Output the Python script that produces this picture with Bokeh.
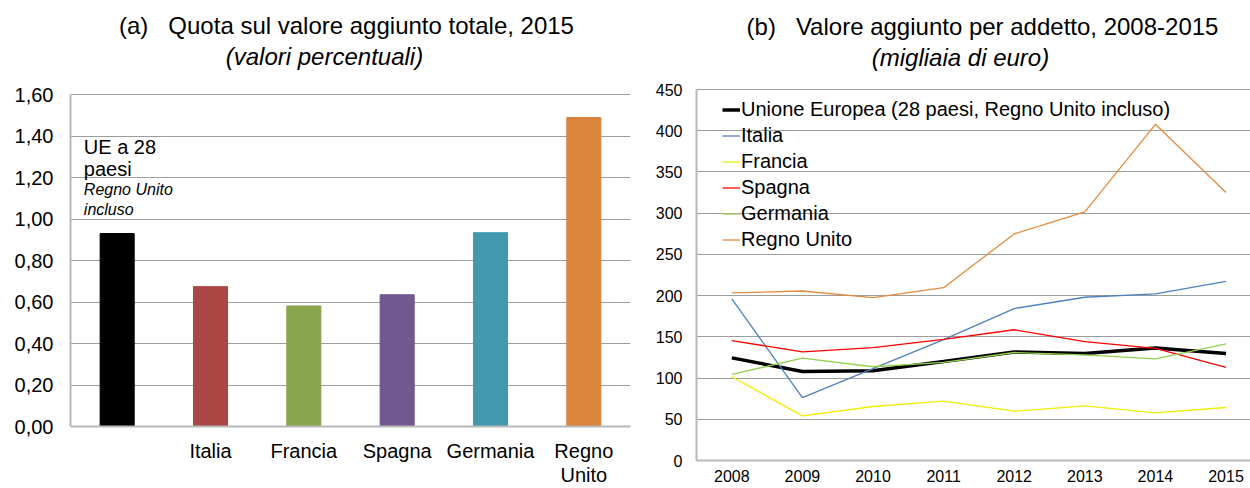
from bokeh.plotting import figure
from bokeh.layouts import row
from bokeh.models import (FactorRange, Range1d, FixedTicker, CustomJSTickFormatter,
                          Label, Legend, LegendItem)
from bokeh.embed import file_html
from bokeh.resources import INLINE

FONT = "Liberation Sans"

# ---------------- Panel (a) data ----------------
bar_categories = [" ", "Italia", "Francia", "Spagna", "Germania", "Regno\nUnito"]
bar_values = [0.93, 0.674, 0.581, 0.635, 0.934, 1.489]
bar_colors = ["#000000", "#AA4643", "#89A54E", "#71588F", "#4198AF", "#DB843D"]
y_ticks_a = [0.0, 0.2, 0.4, 0.6, 0.8, 1.0, 1.2, 1.4, 1.6]

# ---------------- Panel (b) data ----------------
years = [2008, 2009, 2010, 2011, 2012, 2013, 2014, 2015]
series_names = ["Unione Europea (28 paesi, Regno Unito incluso)", "Italia", "Francia",
                "Spagna", "Germania", "Regno Unito"]
ue = [124.5, 108.0, 108.8, 120.0, 131.7, 129.7, 136.5, 129.7]
italia = [196.0, 76.3, 111.5, 146.6, 184.3, 198.0, 202.0, 217.3]
francia = [101.6, 54.2, 65.5, 71.9, 59.8, 66.3, 57.8, 64.3]
spagna = [145.4, 131.7, 137.0, 147.0, 158.6, 144.2, 136.1, 112.9]
germania = [104.4, 124.1, 113.7, 119.0, 131.0, 128.0, 123.3, 141.4]
regno_unito = [203.2, 205.6, 197.6, 209.6, 274.8, 301.6, 407.8, 325.1]
series_values = [ue, italia, francia, spagna, germania, regno_unito]
line_colors = ["#000000", "#4F81BD", "#EEEE00", "#FF0000", "#92D050", "#E38B3F"]
line_widths = [3.5, 1.3, 1.3, 1.3, 1.3, 1.3]
y_ticks_b = [0, 50, 100, 150, 200, 250, 300, 350, 400, 450]

GRID = "#9c9c9c"
AXIS = "#b8b8b8"

comma_fmt = CustomJSTickFormatter(code="return tick.toFixed(2).replace('.', ',');")

# ---------------- Panel (a) ----------------
# frame spans from the top of the canvas so that the titles can live inside it;
# the axis line and grid stop at 1,60
H = 488
A_BOTTOM = 62                      # px below the frame
A_TOP_GAP = 94                     # px between canvas top and the 1,60 line
a_frame_h = H - A_BOTTOM
a_ymax = 1.6 * a_frame_h / (a_frame_h - A_TOP_GAP)

p1 = figure(width=648, height=H, x_range=FactorRange(*bar_categories, range_padding=0),
            y_range=Range1d(0, a_ymax), output_backend="svg", toolbar_location=None,
            min_border_left=70, min_border_right=18, min_border_bottom=A_BOTTOM, min_border_top=0,
            frame_align=False)
p1.outline_line_color = None
p1.vbar(x=bar_categories, top=bar_values, width=0.365, color=bar_colors)

p1.xgrid.grid_line_color = None
p1.ygrid.grid_line_color = GRID
p1.ygrid.ticker = FixedTicker(ticks=y_ticks_a)
p1.yaxis.ticker = FixedTicker(ticks=y_ticks_a)
p1.yaxis.bounds = (0, 1.6)
p1.yaxis.formatter = comma_fmt
for ax in (p1.xaxis[0], p1.yaxis[0]):
    ax.major_tick_line_color = None
    ax.minor_tick_line_color = None
    ax.major_tick_out = 0
    ax.major_tick_in = 0
    ax.axis_line_color = AXIS
    ax.axis_line_width = 2
    ax.major_label_text_font = FONT
    ax.major_label_text_font_size = "20px"
    ax.major_label_text_color = "#000000"
p1.yaxis.major_label_standoff = 17
p1.xaxis.major_label_standoff = 13
p1.xaxis.major_label_text_line_height = 1.1

p1.add_layout(Label(x=2.957, y=1.932, text="(a)\u00a0\u00a0\u00a0Quota sul valore aggiunto totale, 2015",
                    text_font=FONT, text_font_size="24px", text_baseline="alphabetic",
                    text_align="center", text_color="#000000"))
p1.add_layout(Label(x=2.721, y=1.785, text="(valori percentuali)", text_font=FONT,
                    text_font_size="24px", text_font_style="italic", text_baseline="alphabetic",
                    text_align="center", text_color="#000000"))
ann = [("UE a 28", 1.349, "20px", "normal"), ("paesi", 1.239, "20px", "normal"),
       ("Regno Unito", 1.142, "16px", "italic"), ("incluso", 1.045, "16px", "italic")]
for txt, yy, fs, st in ann:
    p1.add_layout(Label(x=0.143, y=yy, text=txt, text_font=FONT, text_font_size=fs,
                        text_font_style=st, text_baseline="alphabetic", text_color="#000000"))

# ---------------- Panel (b) ----------------
B_BOTTOM = 28
B_TOP_GAP = 89
b_frame_h = H - B_BOTTOM
b_ymax = 450 * b_frame_h / (b_frame_h - B_TOP_GAP)

p2 = figure(width=602, height=H, x_range=Range1d(2007.5, 2015.347), y_range=Range1d(0, b_ymax),
            output_backend="svg", toolbar_location=None,
            min_border_left=48, min_border_right=0, min_border_bottom=B_BOTTOM, min_border_top=0,
            frame_align=False)
p2.outline_line_color = None

p2.add_layout(Label(x=2011.551, y=527.0, text="(b)\u00a0\u00a0\u00a0Valore aggiunto per addetto, 2008-2015",
                    text_font=FONT, text_font_size="24px", text_baseline="alphabetic",
                    text_align="center", text_color="#000000"))
p2.add_layout(Label(x=2011.239, y=488.8, text="(migliaia di euro)", text_font=FONT,
                    text_font_size="24px", text_font_style="italic", text_baseline="alphabetic",
                    text_align="center", text_color="#000000"))

items = []
for name, vals, col, lw in zip(series_names, series_values, line_colors, line_widths):
    r = p2.line(years, vals, line_color=col, line_width=lw)
    items.append(LegendItem(label=name, renderers=[r]))

legend = Legend(items=items, location=(26, 208), padding=0, margin=0, spacing=1,
                glyph_width=18, glyph_height=25, label_height=25, label_standoff=1,
                label_text_font=FONT, label_text_font_size="20px", label_text_color="#000000",
                border_line_color=None, background_fill_alpha=0)
p2.add_layout(legend)

p2.xgrid.grid_line_color = None
p2.ygrid.grid_line_color = GRID
p2.ygrid.ticker = FixedTicker(ticks=y_ticks_b)
p2.yaxis.ticker = FixedTicker(ticks=y_ticks_b)
p2.yaxis.bounds = (0, 450)
p2.xaxis.ticker = FixedTicker(ticks=years)
for ax in (p2.xaxis[0], p2.yaxis[0]):
    ax.major_tick_line_color = None
    ax.minor_tick_line_color = None
    ax.major_tick_out = 0
    ax.major_tick_in = 0
    ax.axis_line_color = AXIS
    ax.axis_line_width = 2
    ax.major_label_text_font = FONT
    ax.major_label_text_font_size = "16px"
    ax.major_label_text_color = "#000000"
p2.yaxis.major_label_standoff = 14
p2.xaxis.major_label_standoff = 9

layout = row(p1, p2, spacing=0)
open("out.html", "w").write(file_html(layout, INLINE))
